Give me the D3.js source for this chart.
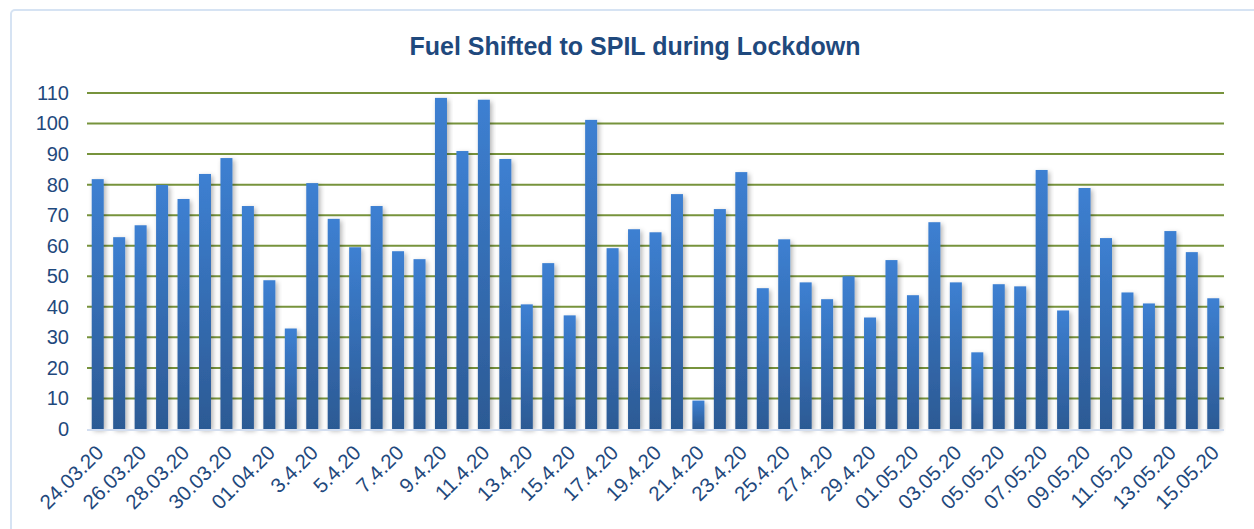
<!DOCTYPE html>
<html>
<head>
<meta charset="utf-8">
<script src="https://cdn.jsdelivr.net/npm/d3@7"></script>
<style>
  body { margin: 0; background: #fff; }
  svg { display: block; font-family: "Liberation Sans", Arial, sans-serif; }
</style>
</head>
<body>
<div id="chart-area"></div>
<script>
// data
var dates = [
  "24.03.20","25.03.20","26.03.20","27.03.20","28.03.20","29.03.20","30.03.20","31.03.20",
  "01.04.20","02.04.20","3.4.20","4.4.20","5.4.20","6.4.20","7.4.20","8.4.20","9.4.20","10.4.20",
  "11.4.20","12.4.20","13.4.20","14.4.20","15.4.20","16.4.20","17.4.20","18.4.20","19.4.20","20.4.20",
  "21.4.20","22.4.20","23.4.20","24.4.20","25.4.20","26.4.20","27.4.20","28.4.20","29.4.20","30.4.20",
  "01.05.20","02.05.20","03.05.20","04.05.20","05.05.20","06.05.20","07.05.20","08.05.20","09.05.20",
  "10.05.20","11.05.20","12.05.20","13.05.20","14.05.20","15.05.20"
];
var fuel = [
  81.8, 62.8, 66.7, 79.9, 75.3, 83.5, 88.7, 73.0,
  48.7, 32.9, 80.5, 68.8, 59.5, 73.0, 58.2, 55.6, 108.4, 91.0,
  107.8, 88.4, 40.8, 54.3, 37.2, 101.2, 59.2, 65.4, 64.4, 76.9,
  9.3, 72.0, 84.1, 46.1, 62.1, 48.0, 42.5, 50.0, 36.5, 55.3,
  43.8, 67.7, 48.0, 25.1, 47.4, 46.7, 84.8, 38.8, 78.9,
  62.5, 44.7, 41.1, 64.8, 57.9, 42.8
];
var yTicks = [0, 10, 20, 30, 40, 50, 60, 70, 80, 90, 100, 110];
var title = "Fuel Shifted to SPIL during Lockdown";

var W = 1254, H = 529;
var margin = { left: 87, right: 30, top: 93, bottom: 100 };
var width = W - margin.left - margin.right,
    height = H - margin.top - margin.bottom;

var svg = d3.select("#chart-area")
  .append("svg")
    .attr("width", W)
    .attr("height", H);

var defs = svg.append("defs");
var grad = defs.append("linearGradient")
    .attr("id", "barGrad")
    .attr("x1", 0).attr("y1", 0).attr("x2", 0).attr("y2", 1);
grad.append("stop").attr("offset", "0%").attr("stop-color", "#3d80d2");
grad.append("stop").attr("offset", "100%").attr("stop-color", "#2c5a94");

var shadow = defs.append("filter")
    .attr("id", "shadow")
    .attr("x", "-50%").attr("y", "-10%")
    .attr("width", "200%").attr("height", "130%");
shadow.append("feDropShadow")
    .attr("dx", 2).attr("dy", 2)
    .attr("stdDeviation", 2.5)
    .attr("flood-color", "#000")
    .attr("flood-opacity", 0.3);

// outer frame
svg.append("rect")
    .attr("x", 11).attr("y", 10)
    .attr("width", W + 20).attr("height", H + 20)
    .attr("rx", 4)
    .attr("fill", "none")
    .attr("stroke", "#d6e3f3")
    .attr("stroke-width", 2);

// title
svg.append("text")
    .attr("x", 635)
    .attr("y", 55)
    .attr("text-anchor", "middle")
    .attr("font-size", "25px")
    .attr("font-weight", "bold")
    .attr("fill", "#1f497d")
    .text(title);

var g = svg.append("g")
    .attr("transform", "translate(" + margin.left + "," + margin.top + ")");

// x scale
var x = d3.scaleBand()
    .domain(dates)
    .range([0, width])
    .paddingInner(0.44)
    .paddingOuter(0.22);

// y scale
var y = d3.scaleLinear()
    .domain([0, 110])
    .range([height, 0]);

// grid
g.selectAll("line.grid")
  .data(yTicks.filter(function(d){ return d > 0; }))
  .enter().append("line")
    .attr("class", "grid")
    .attr("x1", 0).attr("x2", width)
    .attr("y1", function(d){ return y(d); })
    .attr("y2", function(d){ return y(d); })
    .attr("stroke", "#77933c")
    .attr("stroke-width", 2);

// y axis labels
var yAxisCall = d3.axisLeft(y)
    .tickValues(yTicks)
    .tickSize(0)
    .tickPadding(18);

var yAxisGroup = g.append("g")
    .call(yAxisCall);
yAxisGroup.select(".domain").remove();
yAxisGroup.selectAll("text")
    .attr("font-size", "20px")
    .attr("font-family", "Liberation Sans, Arial, sans-serif")
    .attr("fill", "#1f497d");

// bars
g.selectAll("rect.bar")
  .data(fuel)
  .enter().append("rect")
    .attr("class", "bar")
    .attr("x", function(d, i){ return x(dates[i]); })
    .attr("y", function(d){ return y(d); })
    .attr("width", x.bandwidth())
    .attr("height", function(d){ return height - y(d); })
    .attr("fill", "url(#barGrad)")
    .attr("filter", "url(#shadow)");

// baseline
g.append("line")
    .attr("x1", 0).attr("x2", width)
    .attr("y1", height + 1).attr("y2", height + 1)
    .attr("stroke", "#d3def0")
    .attr("stroke-width", 2);

// x labels, every other date
var xAxisCall = d3.axisBottom(x)
    .tickValues(dates.filter(function(d, i){ return i % 2 === 0; }))
    .tickSize(0)
    .tickPadding(0);

var xAxisGroup = g.append("g")
    .attr("transform", "translate(0," + height + ")")
    .call(xAxisCall);
xAxisGroup.select(".domain").remove();
xAxisGroup.selectAll("text")
    .attr("font-size", "20.5px")
    .attr("font-family", "Liberation Sans, Arial, sans-serif")
    .attr("fill", "#1f497d")
    .attr("text-anchor", "end")
    .attr("dy", "0")
    .attr("transform", "translate(7,25) rotate(-45)");
</script>
</body>
</html>
